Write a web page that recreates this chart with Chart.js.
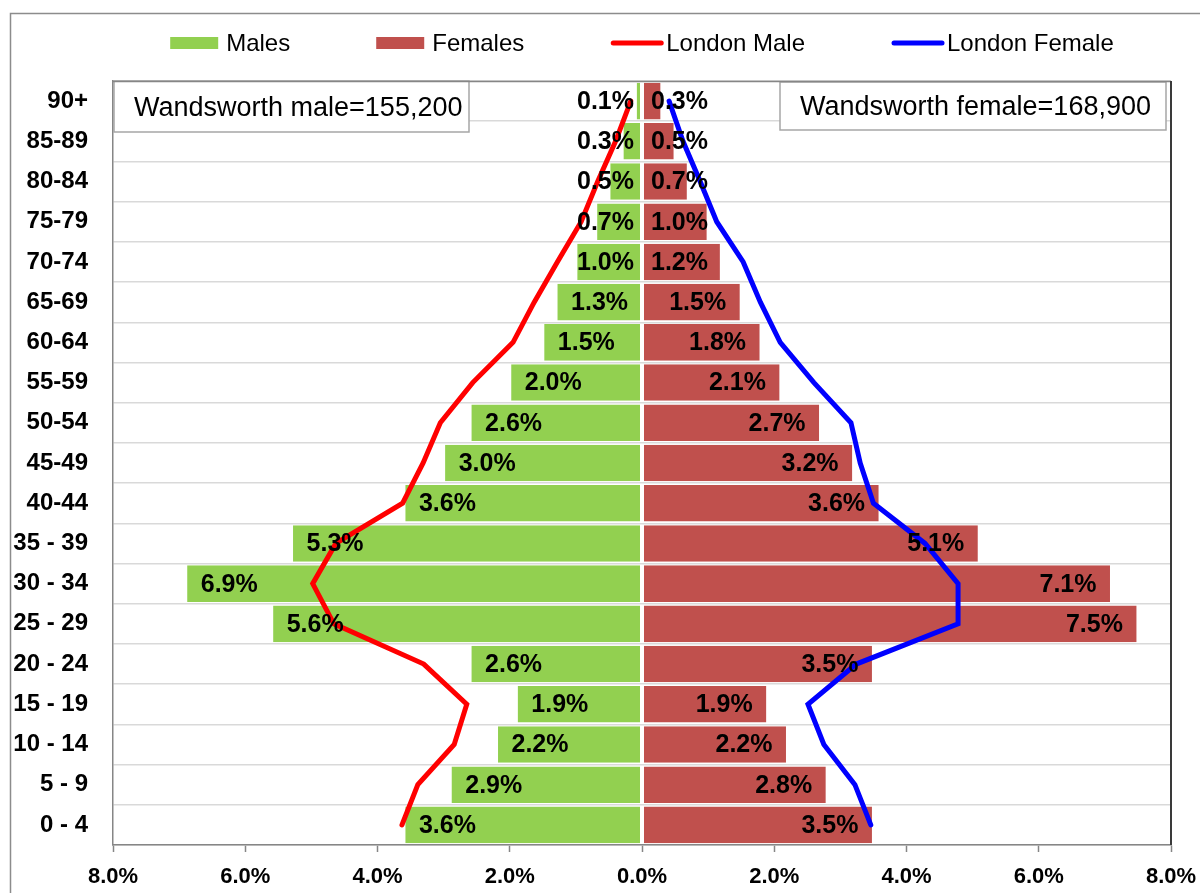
<!DOCTYPE html>
<html>
<head>
<meta charset="utf-8">
<title>Wandsworth population pyramid</title>
<script src="https://cdn.jsdelivr.net/npm/chart.js@4.4.1/dist/chart.umd.min.js"></script>
<style>
    html, body { margin: 0; padding: 0; background: #fff; }
    canvas { display: block; }
</style>
</head>
<body>
<canvas id="pyramid" width="1200" height="893"></canvas>
<script>
// Age bands, youngest first (the y axis is reversed so 90+ sits on top)
const ageGroups = ['0 - 4', '5 - 9', '10 - 14', '15 - 19', '20 - 24', '25 - 29', '30 - 34', '35 - 39',
    '40-44', '45-49', '50-54', '55-59', '60-64', '65-69', '70-74', '75-79', '80-84', '85-89', '90+'];

// Wandsworth share of population (%)
const males   = [3.6, 2.9, 2.2, 1.9, 2.6, 5.6, 6.9, 5.3, 3.6, 3.0, 2.6, 2.0, 1.5, 1.3, 1.0, 0.7, 0.5, 0.3, 0.1];
const females = [3.5, 2.8, 2.2, 1.9, 3.5, 7.5, 7.1, 5.1, 3.6, 3.2, 2.7, 2.1, 1.8, 1.5, 1.2, 1.0, 0.7, 0.5, 0.3];

// London comparison (%)
const londonMale   = [3.63, 3.39, 2.84, 2.65, 3.30, 4.66, 4.98, 4.63, 3.62, 3.31, 3.05, 2.56, 1.95, 1.63, 1.28, 0.92, 0.67, 0.40, 0.17];
const londonFemale = [3.46, 3.22, 2.75, 2.51, 3.24, 4.78, 4.78, 4.28, 3.50, 3.30, 3.16, 2.60, 2.09, 1.79, 1.53, 1.13, 0.88, 0.62, 0.41];

// x axis range / step (%)
const axisMin = -8;
const axisMax = 8;
const axisStep = 2;

const totalMale = '155,200';
const totalFemale = '168,900';

const FONT = '"Liberation Sans", Arial, sans-serif';
const GRID = '#d9d9d9';
const AXIS = '#868686';

Chart.defaults.font.family = FONT;
Chart.defaults.color = '#000';

const pyramidDecor = {
    id: 'pyramidDecor',
    beforeDraw(chart) {
        // outer chart border
        const ctx = chart.ctx;
        ctx.save();
        ctx.strokeStyle = '#8c8c8c';
        ctx.lineWidth = 1.5;
        ctx.strokeRect(10.5, 13.5, 1300, 1000);
        ctx.restore();
    },
    beforeDatasetsDraw(chart) {
        // the two total boxes
        const ctx = chart.ctx;
        const ca = chart.chartArea;
        ctx.save();
        ctx.font = '27px ' + FONT;
        ctx.textBaseline = 'middle';
        const boxes = [
            { x: ca.left + 1, y: ca.top, w: 355, h: 51, text: 'Wandsworth male=' + totalMale },
            { x: ca.right - 391, y: ca.top + 1, w: 386, h: 48, text: 'Wandsworth female=' + totalFemale }
        ];
        boxes.forEach(b => {
            ctx.fillStyle = '#fff';
            ctx.fillRect(b.x, b.y, b.w, b.h);
            ctx.strokeStyle = '#a6a6a6';
            ctx.lineWidth = 1.5;
            ctx.strokeRect(b.x, b.y, b.w, b.h);
            ctx.fillStyle = '#000';
            ctx.fillText(b.text, b.x + 20, b.y + b.h / 2 + 2);
        });
        ctx.restore();
    },
    afterDatasetsDraw(chart) {
        // percentage labels on the bars
        const ctx = chart.ctx;
        const zero = chart.scales.x.getPixelForValue(0);
        ctx.save();
        ctx.font = 'bold 25px ' + FONT;
        ctx.fillStyle = '#000';
        ctx.textBaseline = 'middle';
        ctx.textAlign = 'left';
        [males, females].forEach((vals, di) => {
            chart.getDatasetMeta(di).data.forEach((bar, i) => {
                const txt = vals[i].toFixed(1) + '%';
                const w = ctx.measureText(txt).width;
                let left;
                if (di === 0) {
                    left = Math.min(bar.x + 15, zero - 8 - w);
                } else {
                    left = Math.max(bar.x - 15 - w, zero + 9);
                }
                ctx.fillText(txt, left, bar.y + 1);
            });
        });
        ctx.restore();
    },
    afterDraw(chart) {
        const ctx = chart.ctx;
        const ca = chart.chartArea;
        ctx.save();
        // top and right edges of the plot area
        ctx.lineWidth = 1.5;
        ctx.strokeStyle = AXIS;
        ctx.beginPath();
        ctx.moveTo(ca.left, ca.top + 0.5);
        ctx.lineTo(ca.right, ca.top + 0.5);
        ctx.stroke();
        ctx.strokeStyle = '#3a3a3a';
        ctx.lineWidth = 2;
        ctx.beginPath();
        ctx.moveTo(ca.right, ca.top);
        ctx.lineTo(ca.right, ca.bottom);
        ctx.stroke();

        // legend
        ctx.font = '24px ' + FONT;
        ctx.textBaseline = 'middle';
        const items = chart.data.datasets.map(ds => ({
            text: ds.label,
            line: ds.type === 'line',
            color: ds.type === 'line' ? ds.borderColor : ds.backgroundColor
        }));
        const swatch = 48, gap = 8, spacing = 86;
        let total = 0;
        items.forEach((it, i) => {
            it.w = ctx.measureText(it.text).width;
            total += swatch + gap + it.w + (i ? spacing : 0);
        });
        let x = (ca.left + ca.right) / 2 - total / 2;
        const y = 43;
        items.forEach(it => {
            if (it.line) {
                ctx.strokeStyle = it.color;
                ctx.lineWidth = 5;
                ctx.lineCap = 'round';
                ctx.beginPath();
                ctx.moveTo(x + 3, y);
                ctx.lineTo(x + swatch + 3, y);
                ctx.stroke();
            } else {
                ctx.fillStyle = it.color;
                ctx.fillRect(x, y - 6, swatch, 12);
            }
            ctx.fillStyle = '#000';
            ctx.fillText(it.text, x + swatch + gap, y + 1);
            x += swatch + gap + it.w + spacing;
        });
        ctx.restore();
    }
};

new Chart(document.getElementById('pyramid'), {
    type: 'bar',
    data: {
        labels: ageGroups,
        datasets: [
            {
                label: 'Males',
                data: males.map(v => -v),
                backgroundColor: '#92d050',
                borderColor: '#ffffff',
                borderWidth: { left: 1.5, right: 1.5, top: 0, bottom: 0 },
                borderSkipped: false,
                barPercentage: 0.91,
                categoryPercentage: 1,
                order: 2
            },
            {
                label: 'Females',
                data: females,
                backgroundColor: '#c0504d',
                borderColor: '#ffffff',
                borderWidth: { left: 1.5, right: 1.5, top: 0, bottom: 0 },
                borderSkipped: false,
                barPercentage: 0.91,
                categoryPercentage: 1,
                order: 2
            },
            {
                type: 'line',
                label: 'London Male',
                data: londonMale.map(v => -v),
                borderColor: '#ff0000',
                backgroundColor: '#ff0000',
                borderWidth: 5,
                borderCapStyle: 'round',
                borderJoinStyle: 'miter',
                pointRadius: 0,
                tension: 0,
                stack: 'londonMale',
                order: 1
            },
            {
                type: 'line',
                label: 'London Female',
                data: londonFemale,
                borderColor: '#0000ff',
                backgroundColor: '#0000ff',
                borderWidth: 5,
                borderCapStyle: 'round',
                borderJoinStyle: 'miter',
                pointRadius: 0,
                tension: 0,
                stack: 'londonFemale',
                order: 1
            }
        ]
    },
    options: {
        indexAxis: 'y',
        responsive: false,
        animation: false,
        layout: {
            padding: { top: 81, right: 29, bottom: 0, left: 0 }
        },
        scales: {
            x: {
                stacked: true,
                min: axisMin,
                max: axisMax,
                afterFit: function(scale) {
                    scale.height = 48;
                    scale.paddingLeft = 0;
                    scale.paddingRight = 0;
                },
                ticks: {
                    stepSize: axisStep,
                    padding: 12,
                    font: { size: 22, weight: 'bold' },
                    color: '#000',
                    callback: function(value) {
                        return Math.abs(value).toFixed(1) + '%';
                    }
                },
                grid: {
                    drawOnChartArea: false,
                    drawTicks: true,
                    tickLength: 7,
                    tickColor: AXIS,
                    tickWidth: 1.5
                },
                border: { display: true, color: AXIS, width: 1.5 }
            },
            y: {
                stacked: true,
                reverse: true,
                afterFit: function(scale) {
                    scale.width = 113;
                },
                ticks: {
                    padding: 25,
                    font: { size: 24, weight: 'bold' },
                    color: '#000'
                },
                grid: {
                    color: GRID,
                    lineWidth: 1.5,
                    drawTicks: false,
                    offset: true
                },
                border: { display: true, color: AXIS, width: 1.5 }
            }
        },
        plugins: {
            legend: { display: false },
            tooltip: { enabled: false }
        }
    },
    plugins: [pyramidDecor]
});
</script>
</body>
</html>
